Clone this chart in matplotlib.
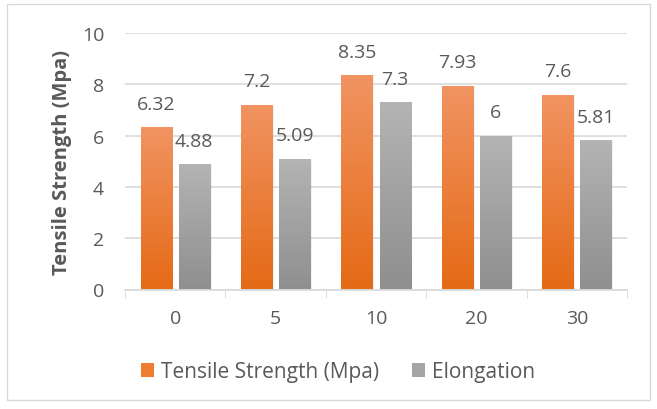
import matplotlib.pyplot as plt
import numpy as np
from matplotlib.patches import Rectangle

cats = ['0', '5', '10', '20', '30']
tensile = [6.32, 7.2, 8.35, 7.93, 7.6]
elong = [4.88, 5.09, 7.3, 6, 5.81]
tensile_lbl = ['6.32', '7.2', '8.35', '7.93', '7.6']
elong_lbl = ['4.88', '5.09', '7.3', '6', '5.81']

plt.rcParams['font.family'] = ['Open Sans', 'DejaVu Sans']
txt = '#595959'

fig = plt.figure(figsize=(6.57, 4.10), dpi=100)
ax = fig.add_axes([125 / 657, 1 - 290.5 / 410, 502 / 657, 256.5 / 410])

# border round the whole chart
fig.patches.append(Rectangle((6.5 / 657, 9 / 410), 643 / 657, 396 / 410, transform=fig.transFigure,
                             fill=False, edgecolor='#d9d9d9', linewidth=1))

x = np.arange(len(cats))
w = 0.31
off = 0.19


def grad_bars(xs, vals, top, bottom):
    bars = ax.bar(xs, vals, w, color='none', edgecolor='none', zorder=3)
    cmap = plt.matplotlib.colors.LinearSegmentedColormap.from_list('g', [bottom, top])
    grad = np.linspace(0, 1, 256).reshape(-1, 1)
    for b in bars:
        bx, by = b.get_x(), b.get_y()
        bw, bh = b.get_width(), b.get_height()
        # soft shadow
        for k, a in [(0.018, 0.05), (0.01, 0.08)]:
            ax.add_patch(Rectangle((bx + k, by), bw, bh - 0.03, color='#000000', alpha=a, zorder=2,
                                   linewidth=0))
        im = ax.imshow(grad, cmap=cmap, aspect='auto', origin='lower',
                       extent=[bx, bx + bw, by, by + bh], zorder=3)
        im.set_clip_path(b)
    return bars


b1 = grad_bars(x - off, tensile, '#f19462', '#e56a16')
b2 = grad_bars(x + off, elong, '#b4b4b4', '#8f8f8f')

for xs, vals, labels in [(x - off, tensile, tensile_lbl), (x + off, elong, elong_lbl)]:
    for xi, v, s in zip(xs, vals, labels):
        ax.annotate(s, (xi, v), xytext=(0, 13.5), textcoords='offset points',
                    ha='center', va='baseline', fontsize=14, color=txt)

ax.set_xlim(-0.5, len(cats) - 0.5)
ax.set_ylim(0, 10)
ax.set_yticks(np.arange(0, 11, 2))
ax.set_xticks(x)
ax.set_xticklabels(cats)
ax.set_xticks(np.arange(-0.5, len(cats)), minor=True)
ax.tick_params(axis='x', which='major', length=0, pad=14, labelsize=14, labelcolor=txt)
ax.tick_params(axis='x', which='minor', length=6, color='#d9d9d9')
ax.tick_params(axis='y', length=0, pad=15, labelsize=14, labelcolor=txt)
ax.grid(axis='y', color='#d9d9d9', linewidth=1.2, zorder=0)
ax.set_axisbelow(True)
for s in ['top', 'right', 'left']:
    ax.spines[s].set_visible(False)
ax.spines['bottom'].set_color('#d9d9d9')
ax.spines['bottom'].set_linewidth(1.2)
ax.set_ylabel('Tensile Strength (Mpa)', fontsize=14.5, fontweight='bold', color=txt, labelpad=7)

h1 = Rectangle((0, 0), 1, 1, facecolor='#ec7d31')
h2 = Rectangle((0, 0), 1, 1, facecolor='#a5a5a5')
fig.legend([h1, h2], ['Tensile Strength (Mpa)', 'Elongation'], loc='center',
           bbox_to_anchor=(338 / 657, 1 - 373 / 410), ncol=2, frameon=False,
           fontsize=15, labelcolor=txt, handlelength=0.63, handleheight=0.63,
           handletextpad=0.34, columnspacing=1.6)

fig.savefig('out.png', dpi=100)
